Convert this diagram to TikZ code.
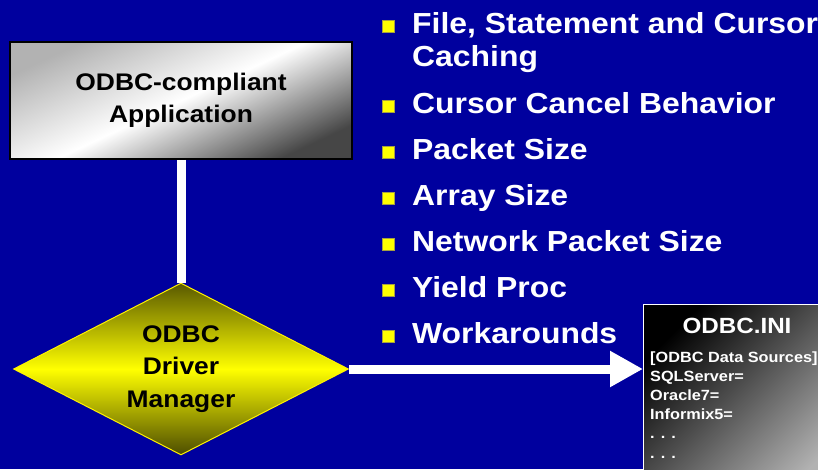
\documentclass[tikz,border=0pt]{standalone}
\usepackage{fontspec}
\setmainfont{Liberation Sans}[FakeStretch=1.1]
\usetikzlibrary{arrows.meta, positioning, shapes.geometric}

\definecolor{slideblue}{RGB}{0,0,158}
\definecolor{bulletyellow}{RGB}{255,255,0}

\begin{document}
\begin{tikzpicture}[
  x=1pt, y=-1pt,
  appbox/.style={
    rectangle, draw=black, line width=1.5pt,
    minimum width=342pt, minimum height=117pt,
    top color=gray!60, bottom color=gray!55!black, middle color=white,
    shading angle=25,
    align=center, font=\fontsize{24}{32}\selectfont\bfseries
  },
  manager/.style={
    diamond, draw=yellow, line width=1pt, inner sep=0pt,
    minimum width=335pt, minimum height=172pt,
    top color=yellow!35!black, bottom color=yellow!30!black, middle color=yellow
  },
  label text/.style={
    align=center, inner sep=0pt, font=\fontsize{24}{32.5}\selectfont\bfseries
  },
  inibox/.style={
    rectangle, draw=white, line width=1pt, anchor=north west,
    minimum width=188pt, minimum height=200pt,
    top color=black, bottom color=gray!60, shading angle=45
  },
  item/.style={
    anchor=base west, text=white, inner sep=0pt, align=left,
    font=\fontsize{29}{33}\selectfont\bfseries
  },
  bullet/.style={
    rectangle, fill=bulletyellow, draw=yellow!60!black, line width=0.4pt,
    minimum size=12pt, inner sep=0pt
  },
  link/.style={white, line width=9pt}
]

\clip (0,0) rectangle (818,469);
\fill[slideblue] (0,0) rectangle (818,469);

% Nodes
\node[appbox] (App) at (181,100.5) {ODBC-compliant\\Application};
\node[manager] (DM) at (181,369) {};
\node[label text] (DM_text) at (DM.center) {ODBC\\Driver\\Manager};
\node[inibox] (INI) at (643,304) {};

\node[anchor=base, text=white, inner sep=0pt, font=\fontsize{22}{22}\selectfont\bfseries]
  (INI_title) at (737,333) {ODBC.INI};
\node[anchor=base west, text=white, inner sep=0pt, align=left,
  font=\fontsize{14.8}{19.2}\selectfont\bfseries] (INI_lines) at (650,458) {
  [ODBC Data Sources]\\
  SQLServer=\\
  Oracle7=\\
  Informix5=\\
  . . .\\
  . . .
};

% Bullet items
\node[item] (Caching) at (412,66) {File, Statement and Cursor\\Caching};
\node[item] (Cancel) at (412,113) {Cursor Cancel Behavior};
\node[item] (Packet) at (412,159) {Packet Size};
\node[item] (Array) at (412,205) {Array Size};
\node[item] (Network) at (412,251) {Network Packet Size};
\node[item] (Yield) at (412,297) {Yield Proc};
\node[item] (Workarounds) at (412,343) {Workarounds};

\node[bullet] (b1) at (388.5,26.5) {};
\node[bullet] (b2) at (388.5,106.5) {};
\node[bullet] (b3) at (388.5,152.5) {};
\node[bullet] (b4) at (388.5,198.5) {};
\node[bullet] (b5) at (388.5,244.5) {};
\node[bullet] (b6) at (388.5,290.5) {};
\node[bullet] (b7) at (388.5,336.5) {};

% Edges
\draw[link] (App.south) -- (DM.north);
\draw[link, -{Triangle[length=33pt, width=34pt]}] (DM.east) -- (DM.east -| INI.west);

\end{tikzpicture}
\end{document}
